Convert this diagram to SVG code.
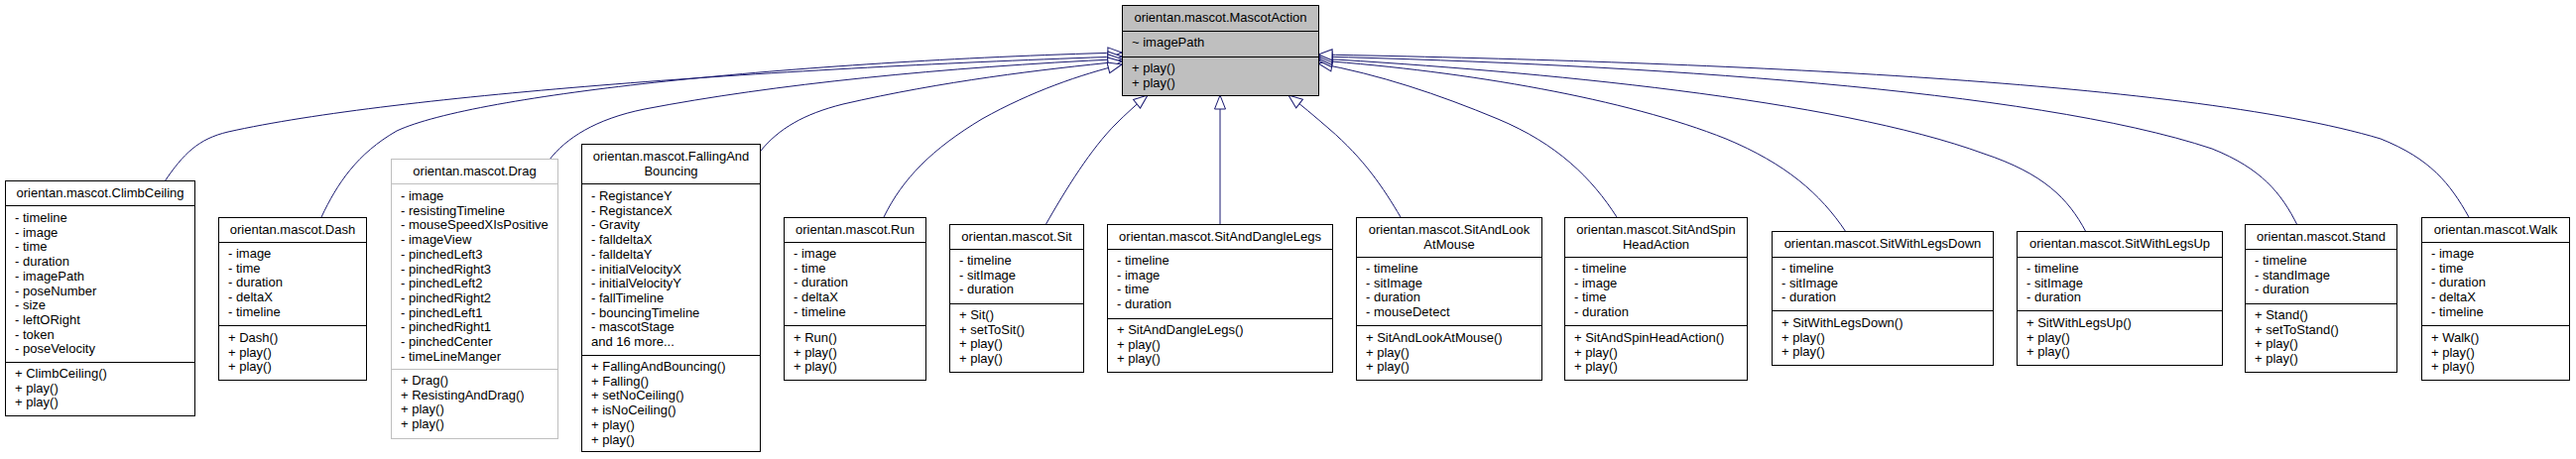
<svg xmlns="http://www.w3.org/2000/svg" width="2597" height="463" viewBox="0 0 2597 463">
<defs>
<style>
.box{fill:#fff;stroke:#000;stroke-width:1}
.base{fill:#bfbfbf;stroke:#000;stroke-width:1}
.gbox{fill:#fff;stroke:#bfbfbf;stroke-width:1}
.div{stroke:#000;stroke-width:1}
.gdiv{stroke:#bfbfbf;stroke-width:1}
text{font-family:"Liberation Sans",Arial,sans-serif;font-size:13px;fill:#000}
.t{text-anchor:middle}
.e{fill:none;stroke:#191970;stroke-width:1;marker-end:url(#inh)}
</style>
<marker id="inh" markerWidth="16" markerHeight="14" refX="14" refY="6" orient="auto" markerUnits="userSpaceOnUse" overflow="visible">
<path d="M0,0.5 L14,6 L0,11.5 Z" fill="#fff" stroke="#191970" stroke-width="1"/>
</marker>
</defs>
<rect width="2597" height="463" fill="#fff"/>

<g id="connectors">
<path class="e" d="M324,219 C340,185 360,155 400,132 C480,95 800,62 1131,53"/>
<path class="e" d="M166,183 C185,155 200,140 230,133 C400,95 800,68 1131,57"/>
<path class="e" d="M554,161 C570,140 600,120 650,110 C780,85 950,68 1131,59.5"/>
<path class="e" d="M767,152 C785,130 810,115 850,105 C950,82 1050,70 1131,62"/>
<path class="e" d="M891,219 C910,180 940,150 990,120 C1040,92 1090,75 1131,65"/>
<path class="e" d="M1054,227 C1075,190 1100,150 1125,125 C1135,115 1147,104 1157,96"/>
<path class="e" d="M1230,227 L1230,96"/>
<path class="e" d="M1412,219 C1395,190 1375,160 1340,130 C1325,117 1312,106 1299,96"/>
<path class="e" d="M1630,219 C1605,180 1570,145 1510,120 C1450,95 1390,75 1329,64"/>
<path class="e" d="M1861,234 C1835,195 1800,165 1740,140 C1640,100 1480,72 1329,61"/>
<path class="e" d="M2103,234 C2085,200 2060,175 2000,155 C1850,100 1550,72 1329,59"/>
<path class="e" d="M2316,227 C2300,195 2280,170 2230,150 C2050,90 1650,65 1329,57"/>
<path class="e" d="M2489,219 C2470,185 2450,160 2400,140 C2200,80 1700,62 1329,55"/>
</g>

<g id="MascotAction">
<rect class="base" x="1131.5" y="5.5" width="198" height="91"/>
<line class="div" x1="1131.5" y1="31.5" x2="1329.5" y2="31.5"/>
<line class="div" x1="1131.5" y1="57.5" x2="1329.5" y2="57.5"/>
<text class="t" x="1230.5" y="22">orientan.mascot.MascotAction</text>
<text x="1141" y="47">~ imagePath</text>
<text x="1141" y="73">+ play()</text>
<text x="1141" y="87.7">+ play()</text>
</g>

<g id="ClimbCeiling">
<rect class="box" x="5.5" y="182.5" width="191" height="237"/>
<line class="div" x1="5.5" y1="207.5" x2="196.5" y2="207.5"/>
<line class="div" x1="5.5" y1="365.5" x2="196.5" y2="365.5"/>
<text class="t" x="101" y="199">orientan.mascot.ClimbCeiling</text>
<text x="15" y="224">- timeline</text>
<text x="15" y="238.7">- image</text>
<text x="15" y="253.4">- time</text>
<text x="15" y="268.1">- duration</text>
<text x="15" y="282.8">- imagePath</text>
<text x="15" y="297.5">- poseNumber</text>
<text x="15" y="312.2">- size</text>
<text x="15" y="326.9">- leftORight</text>
<text x="15" y="341.6">- token</text>
<text x="15" y="356.3">- poseVelocity</text>
<text x="15" y="381">+ ClimbCeiling()</text>
<text x="15" y="395.7">+ play()</text>
<text x="15" y="410.4">+ play()</text>
</g>

<g id="Dash">
<rect class="box" x="220.5" y="219.5" width="149" height="164"/>
<line class="div" x1="220.5" y1="244.5" x2="369.5" y2="244.5"/>
<line class="div" x1="220.5" y1="328.5" x2="369.5" y2="328.5"/>
<text class="t" x="295" y="236">orientan.mascot.Dash</text>
<text x="230" y="260">- image</text>
<text x="230" y="274.7">- time</text>
<text x="230" y="289.4">- duration</text>
<text x="230" y="304.1">- deltaX</text>
<text x="230" y="318.8">- timeline</text>
<text x="230" y="345">+ Dash()</text>
<text x="230" y="359.7">+ play()</text>
<text x="230" y="374.4">+ play()</text>
</g>

<g id="Drag">
<rect class="gbox" x="394.5" y="160.5" width="168" height="282"/>
<line class="gdiv" x1="394.5" y1="185.5" x2="562.5" y2="185.5"/>
<line class="gdiv" x1="394.5" y1="372.5" x2="562.5" y2="372.5"/>
<text class="t" x="478.5" y="177">orientan.mascot.Drag</text>
<text x="404" y="202">- image</text>
<text x="404" y="216.7">- resistingTimeline</text>
<text x="404" y="231.4">- mouseSpeedXIsPositive</text>
<text x="404" y="246.1">- imageView</text>
<text x="404" y="260.8">- pinchedLeft3</text>
<text x="404" y="275.5">- pinchedRight3</text>
<text x="404" y="290.2">- pinchedLeft2</text>
<text x="404" y="304.9">- pinchedRight2</text>
<text x="404" y="319.6">- pinchedLeft1</text>
<text x="404" y="334.3">- pinchedRight1</text>
<text x="404" y="349">- pinchedCenter</text>
<text x="404" y="363.7">- timeLineManger</text>
<text x="404" y="388">+ Drag()</text>
<text x="404" y="402.7">+ ResistingAndDrag()</text>
<text x="404" y="417.4">+ play()</text>
<text x="404" y="432.1">+ play()</text>
</g>

<g id="FallingAndBouncing">
<rect class="box" x="586.5" y="145.5" width="180" height="310"/>
<line class="div" x1="586.5" y1="185.5" x2="766.5" y2="185.5"/>
<line class="div" x1="586.5" y1="358.5" x2="766.5" y2="358.5"/>
<text class="t" x="676.5" y="162">orientan.mascot.FallingAnd</text>
<text class="t" x="676.5" y="176.7">Bouncing</text>
<text x="596" y="202">- RegistanceY</text>
<text x="596" y="216.7">- RegistanceX</text>
<text x="596" y="231.4">- Gravity</text>
<text x="596" y="246.1">- falldeltaX</text>
<text x="596" y="260.8">- falldeltaY</text>
<text x="596" y="275.5">- initialVelocityX</text>
<text x="596" y="290.2">- initialVelocityY</text>
<text x="596" y="304.9">- fallTimeline</text>
<text x="596" y="319.6">- bouncingTimeline</text>
<text x="596" y="334.3">- mascotStage</text>
<text x="596" y="349">and 16 more...</text>
<text x="596" y="374">+ FallingAndBouncing()</text>
<text x="596" y="388.7">+ Falling()</text>
<text x="596" y="403.4">+ setNoCeiling()</text>
<text x="596" y="418.1">+ isNoCeiling()</text>
<text x="596" y="432.8">+ play()</text>
<text x="596" y="447.5">+ play()</text>
</g>

<g id="Run">
<rect class="box" x="790.5" y="219.5" width="143" height="164"/>
<line class="div" x1="790.5" y1="244.5" x2="933.5" y2="244.5"/>
<line class="div" x1="790.5" y1="328.5" x2="933.5" y2="328.5"/>
<text class="t" x="862" y="236">orientan.mascot.Run</text>
<text x="800" y="260">- image</text>
<text x="800" y="274.7">- time</text>
<text x="800" y="289.4">- duration</text>
<text x="800" y="304.1">- deltaX</text>
<text x="800" y="318.8">- timeline</text>
<text x="800" y="345">+ Run()</text>
<text x="800" y="359.7">+ play()</text>
<text x="800" y="374.4">+ play()</text>
</g>

<g id="Sit">
<rect class="box" x="957.5" y="226.5" width="135" height="149"/>
<line class="div" x1="957.5" y1="251.5" x2="1092.5" y2="251.5"/>
<line class="div" x1="957.5" y1="306.5" x2="1092.5" y2="306.5"/>
<text class="t" x="1025" y="243">orientan.mascot.Sit</text>
<text x="967" y="267">- timeline</text>
<text x="967" y="281.7">- sitImage</text>
<text x="967" y="296.4">- duration</text>
<text x="967" y="322">+ Sit()</text>
<text x="967" y="336.7">+ setToSit()</text>
<text x="967" y="351.4">+ play()</text>
<text x="967" y="366.1">+ play()</text>
</g>

<g id="SitAndDangleLegs">
<rect class="box" x="1116.5" y="226.5" width="227" height="149"/>
<line class="div" x1="1116.5" y1="251.5" x2="1343.5" y2="251.5"/>
<line class="div" x1="1116.5" y1="321.5" x2="1343.5" y2="321.5"/>
<text class="t" x="1230" y="243">orientan.mascot.SitAndDangleLegs</text>
<text x="1126" y="267">- timeline</text>
<text x="1126" y="281.7">- image</text>
<text x="1126" y="296.4">- time</text>
<text x="1126" y="311.1">- duration</text>
<text x="1126" y="337">+ SitAndDangleLegs()</text>
<text x="1126" y="351.7">+ play()</text>
<text x="1126" y="366.4">+ play()</text>
</g>

<g id="SitAndLookAtMouse">
<rect class="box" x="1367.5" y="219.5" width="187" height="164"/>
<line class="div" x1="1367.5" y1="259.5" x2="1554.5" y2="259.5"/>
<line class="div" x1="1367.5" y1="328.5" x2="1554.5" y2="328.5"/>
<text class="t" x="1461" y="236">orientan.mascot.SitAndLook</text>
<text class="t" x="1461" y="250.7">AtMouse</text>
<text x="1377" y="275">- timeline</text>
<text x="1377" y="289.7">- sitImage</text>
<text x="1377" y="304.4">- duration</text>
<text x="1377" y="319.1">- mouseDetect</text>
<text x="1377" y="345">+ SitAndLookAtMouse()</text>
<text x="1377" y="359.7">+ play()</text>
<text x="1377" y="374.4">+ play()</text>
</g>

<g id="SitAndSpinHeadAction">
<rect class="box" x="1577.5" y="219.5" width="184" height="164"/>
<line class="div" x1="1577.5" y1="259.5" x2="1761.5" y2="259.5"/>
<line class="div" x1="1577.5" y1="328.5" x2="1761.5" y2="328.5"/>
<text class="t" x="1669.5" y="236">orientan.mascot.SitAndSpin</text>
<text class="t" x="1669.5" y="250.7">HeadAction</text>
<text x="1587" y="275">- timeline</text>
<text x="1587" y="289.7">- image</text>
<text x="1587" y="304.4">- time</text>
<text x="1587" y="319.1">- duration</text>
<text x="1587" y="345">+ SitAndSpinHeadAction()</text>
<text x="1587" y="359.7">+ play()</text>
<text x="1587" y="374.4">+ play()</text>
</g>

<g id="SitWithLegsDown">
<rect class="box" x="1786.5" y="233.5" width="223" height="135"/>
<line class="div" x1="1786.5" y1="259.5" x2="2009.5" y2="259.5"/>
<line class="div" x1="1786.5" y1="313.5" x2="2009.5" y2="313.5"/>
<text class="t" x="1898" y="250">orientan.mascot.SitWithLegsDown</text>
<text x="1796" y="275">- timeline</text>
<text x="1796" y="289.7">- sitImage</text>
<text x="1796" y="304.4">- duration</text>
<text x="1796" y="330">+ SitWithLegsDown()</text>
<text x="1796" y="344.7">+ play()</text>
<text x="1796" y="359.4">+ play()</text>
</g>

<g id="SitWithLegsUp">
<rect class="box" x="2033.5" y="233.5" width="207" height="135"/>
<line class="div" x1="2033.5" y1="259.5" x2="2240.5" y2="259.5"/>
<line class="div" x1="2033.5" y1="313.5" x2="2240.5" y2="313.5"/>
<text class="t" x="2137" y="250">orientan.mascot.SitWithLegsUp</text>
<text x="2043" y="275">- timeline</text>
<text x="2043" y="289.7">- sitImage</text>
<text x="2043" y="304.4">- duration</text>
<text x="2043" y="330">+ SitWithLegsUp()</text>
<text x="2043" y="344.7">+ play()</text>
<text x="2043" y="359.4">+ play()</text>
</g>

<g id="Stand">
<rect class="box" x="2263.5" y="226.5" width="153" height="149"/>
<line class="div" x1="2263.5" y1="251.5" x2="2416.5" y2="251.5"/>
<line class="div" x1="2263.5" y1="306.5" x2="2416.5" y2="306.5"/>
<text class="t" x="2340" y="243">orientan.mascot.Stand</text>
<text x="2273" y="267">- timeline</text>
<text x="2273" y="281.7">- standImage</text>
<text x="2273" y="296.4">- duration</text>
<text x="2273" y="322">+ Stand()</text>
<text x="2273" y="336.7">+ setToStand()</text>
<text x="2273" y="351.4">+ play()</text>
<text x="2273" y="366.1">+ play()</text>
</g>

<g id="Walk">
<rect class="box" x="2441.5" y="219.5" width="149" height="164"/>
<line class="div" x1="2441.5" y1="244.5" x2="2590.5" y2="244.5"/>
<line class="div" x1="2441.5" y1="328.5" x2="2590.5" y2="328.5"/>
<text class="t" x="2516" y="236">orientan.mascot.Walk</text>
<text x="2451" y="260">- image</text>
<text x="2451" y="274.7">- time</text>
<text x="2451" y="289.4">- duration</text>
<text x="2451" y="304.1">- deltaX</text>
<text x="2451" y="318.8">- timeline</text>
<text x="2451" y="345">+ Walk()</text>
<text x="2451" y="359.7">+ play()</text>
<text x="2451" y="374.4">+ play()</text>
</g>
</svg>
